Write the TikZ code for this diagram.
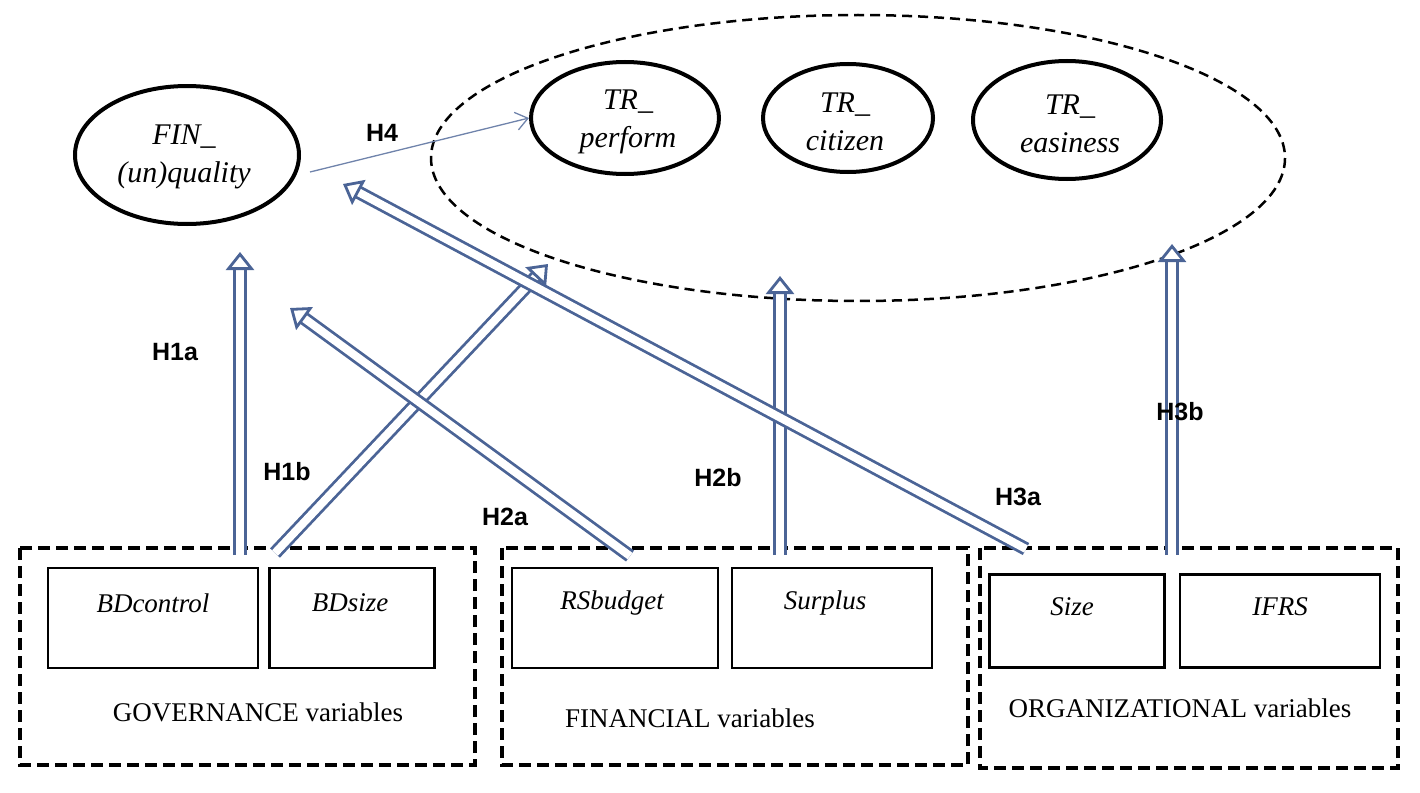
\documentclass[tikz,border=0pt]{standalone}
\usepackage{fontspec}
\setmainfont{Liberation Serif}
\newfontfamily\hsans{Liberation Sans}
\usetikzlibrary{arrows.meta,shapes.geometric}
\definecolor{arr}{RGB}{75,100,150}
\begin{document}
\begin{tikzpicture}[x=1pt,y=-1pt,
  hollow/.style={draw=arr,line width=2.8pt,double=white,double distance=8pt,
    -{Triangle[open,fill=white,length=18pt,width=28pt,line width=2.8pt]}},
  el/.style={draw,line width=4pt,ellipse,inner sep=0pt},
  et/.style={font=\fontsize{30}{38}\selectfont\itshape,align=center},
  dbox/.style={draw,line width=4pt,dash pattern=on 12pt off 6pt},
  ibox/.style={draw,line width=2.2pt},
  it/.style={font=\fontsize{27}{32}\selectfont\itshape},
  vt/.style={font=\fontsize{27}{32}\selectfont},
  hl/.style={font=\hsans\bfseries\fontsize{25}{30}\selectfont}]
\useasboundingbox (0,0) rectangle (1420,792);
% big dashed ellipse
\draw[line width=2.5pt,dash pattern=on 10pt off 6pt] (858,158) ellipse [x radius=427,y radius=143];
\node[el,minimum width=224,minimum height=138] (fin) at (187,155) {};
\node[et] at (184,157) {FIN\_\\(un)quality};
\node[el,minimum width=188,minimum height=112] (perf) at (625,118) {};
\node[et] at (628,122) {TR\_\\perform};
\node[el,minimum width=170,minimum height=108] (cit) at (848,118) {};
\node[et] at (845,122) {TR\_\\citizen};
\node[el,minimum width=188,minimum height=118] (eas) at (1067,120) {};
\node[et] at (1070,124) {TR\_\\easiness};
% boxes
\draw[dbox] (20,548) rectangle (475,765);
\draw[dbox] (502,548) rectangle (968,765);
\draw[dbox] (980,548) rectangle (1398,768);
\node[ibox,minimum width=210,minimum height=100] (bdc) at (153,618) {};
\node[it] at (153,603) {BDcontrol};
\node[ibox,minimum width=165,minimum height=100] (bds) at (352,618) {};
\node[it] at (350,603) {BDsize};
\node[ibox,minimum width=206,minimum height=100] (rsb) at (615,618) {};
\node[it] at (612,603) {RSbudget};
\node[ibox,minimum width=200,minimum height=100] (sur) at (832,618) {};
\node[it] at (825,603) {Surplus};
\node[ibox,minimum width=175,minimum height=93] (siz) at (1077,621) {};
\node[it] at (1072,607) {Size};
\node[ibox,minimum width=200,minimum height=93] (ifr) at (1280,621) {};
\node[it] at (1280,607) {IFRS};
\node[vt] at (258,712) {GOVERNANCE variables};
\node[vt] at (690,718) {FINANCIAL variables};
\node[vt] at (1180,708) {ORGANIZATIONAL variables};
% arrows
\coordinate (a1) at (240,555); \coordinate (b1) at (240,252);
\coordinate (a2) at (275,553); \coordinate (b2) at (548,264);
\coordinate (a3) at (630,556); \coordinate (b3) at (290,308);
\coordinate (a4) at (780,555); \coordinate (b4) at (780,276);
\coordinate (a5) at (1026,549); \coordinate (b5) at (343,184);
\coordinate (a6) at (1172,555); \coordinate (b6) at (1172,244);
\draw[hollow] (a1) -- (b1);
\draw[hollow] (a2) -- (b2);
\draw[hollow] (a3) -- (b3);
\draw[hollow] (a4) -- (b4);
\draw[hollow] (a5) -- (b5);
\draw[hollow] (a6) -- (b6);
\coordinate (h4s) at (310,172);
\draw[arr!80,line width=1.3pt,-{Straight Barb[length=12pt,width=18pt]}] (h4s) -- (perf.west);
\node[hl] at (175,352) {H1a};
\node[hl] at (287,472) {H1b};
\node[hl] at (505,517) {H2a};
\node[hl] at (718,478) {H2b};
\node[hl] at (1018,497) {H3a};
\node[hl] at (1180,412) {H3b};
\node[hl] at (382,133) {H4};
\end{tikzpicture}
\end{document}
